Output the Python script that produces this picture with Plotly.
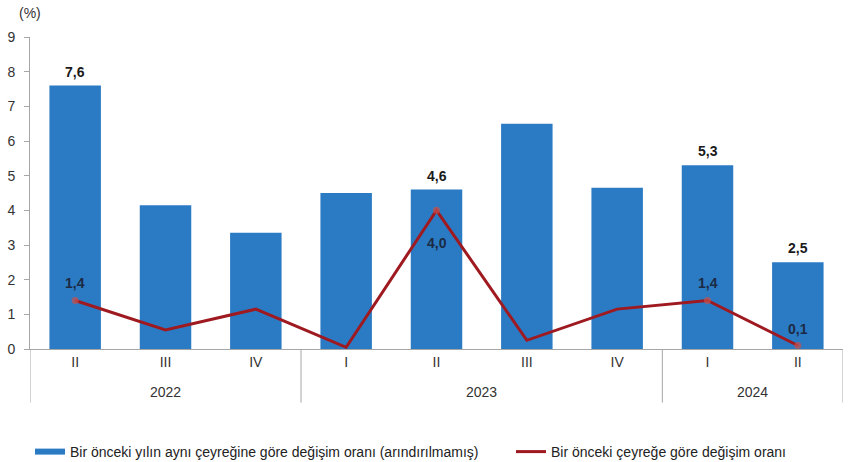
import plotly.graph_objects as go

years = ["2022", "2022", "2022", "2023", "2023", "2023", "2023", "2024", "2024"]
quarters = ["II", "III", "IV", "I", "II", "III", "IV", "I", "II"]
annual = [7.6, 4.15, 3.35, 4.5, 4.6, 6.5, 4.65, 5.3, 2.5]
quarterly = [1.4, 0.55, 1.15, 0.05, 4.0, 0.25, 1.15, 1.4, 0.1]
annual_labeled = [True, False, False, False, True, False, False, True, True]
quarterly_labeled = [True, False, False, False, True, False, False, True, True]
quarterly_label_side = ["above", "above", "above", "above",
                        "below", "above", "above", "above", "above"]
y_ticks = list(range(0, 10))

name_bar = "Bir önceki yılın aynı çeyreğine göre değişim oranı (arındırılmamış)"
name_line = "Bir önceki çeyreğe göre değişim oranı"


def fmt(v):
    return f"{v:.1f}".replace(".", ",")


BLUE = "#2B7BC4"
RED = "#9E1A20"
GRAY = "#A6A6A6"
TXT = "#333333"
FONT = "Liberation Sans, Arial"

marker_sizes = [7 if f else 0 for f in quarterly_labeled]
x_keys = [f"{y} {q}" for y, q in zip(years, quarters)]

# year groups (index ranges) derived from the data
groups = []
for i, y in enumerate(years):
    if groups and groups[-1][0] == y:
        groups[-1][2] = i
    else:
        groups.append([y, i, i])

fig = go.Figure()
fig.add_trace(go.Bar(
    x=x_keys, y=annual, name=name_bar, showlegend=False,
    marker=dict(color=BLUE, line=dict(width=0)),
))
fig.add_trace(go.Scatter(
    x=x_keys, y=quarterly, name=name_line, mode="lines+markers", showlegend=False,
    line=dict(color=RED, width=3),
    marker=dict(color="#C9504C", size=marker_sizes, line=dict(width=0)),
    cliponaxis=False,
))
# legend-only entries (flat wide swatches as in the reference)
fig.add_trace(go.Scatter(x=[None], y=[None], mode="lines", name=name_bar,
                         line=dict(color=BLUE, width=6), legend="legend"))
fig.add_trace(go.Scatter(x=[None], y=[None], mode="lines", name=name_line,
                         line=dict(color=RED, width=3), legend="legend2"))

annotations = [dict(text="(%)", x=0, xref="paper", xanchor="center",
                    y=1, yref="paper", yanchor="middle", yshift=24,
                    showarrow=False, font=dict(size=14, color=TXT))]
for xk, v, f in zip(x_keys, annual, annual_labeled):
    if f:
        annotations.append(dict(text=fmt(v), x=xk, y=v, xref="x", yref="y",
                                yanchor="middle", yshift=14, showarrow=False,
                                font=dict(family=FONT, size=14, color="#1a1a1a", weight="bold")))
for xk, v, f, side in zip(x_keys, quarterly, quarterly_labeled, quarterly_label_side):
    if f:
        annotations.append(dict(text=fmt(v), x=xk, y=v, xref="x", yref="y",
                                yanchor="middle", yshift=17 if side == "above" else -33,
                                showarrow=False,
                                font=dict(family=FONT, size=14, color="#1c2a44", weight="bold")))
shapes = []
for name, i0, i1 in groups:
    annotations.append(dict(text=name, x=(i0 + i1) / 2, xref="x", y=-0.138, yref="paper",
                            yanchor="middle", showarrow=False,
                            font=dict(size=14, color=TXT)))
    shapes.append(dict(type="line", xref="x", yref="paper", x0=i0 - 0.5, x1=i0 - 0.5,
                       y0=0, y1=-0.172, line=dict(color=GRAY, width=1)))
shapes.append(dict(type="line", xref="x", yref="paper", x0=len(years) - 0.5, x1=len(years) - 0.5,
                   y0=0, y1=-0.172, line=dict(color=GRAY, width=1)))

legend_common = dict(orientation="h", yanchor="middle", yref="container", xref="container",
                     xanchor="left", y=1 - 452 / 462,
                     font=dict(size=14, color="#222222"), itemwidth=30,
                     bgcolor="rgba(0,0,0,0)")

fig.update_layout(
    width=850, height=462,
    margin=dict(l=30, r=7, t=37, b=113),
    paper_bgcolor="white", plot_bgcolor="white",
    bargap=0.43,
    font=dict(family=FONT, size=14, color=TXT),
    showlegend=True,
    legend=dict(x=30 / 850, **legend_common),
    legend2=dict(x=511 / 850, **legend_common),
    annotations=annotations,
    shapes=shapes,
)
fig.update_yaxes(range=[0, 9], tickvals=y_ticks, showgrid=False, zeroline=False,
                 showline=True, linecolor=GRAY, linewidth=1,
                 ticks="outside", ticklen=5, tickcolor=GRAY, ticklabelstandoff=6,
                 tickfont=dict(size=14, color=TXT))
fig.update_xaxes(showgrid=False, showline=True, linecolor=GRAY, linewidth=1,
                 tickvals=x_keys, ticktext=quarters, ticks="", ticklen=2,
                 range=[-0.5, len(years) - 0.5],
                 tickfont=dict(size=14, color=TXT))

fig.write_html("out.html")
